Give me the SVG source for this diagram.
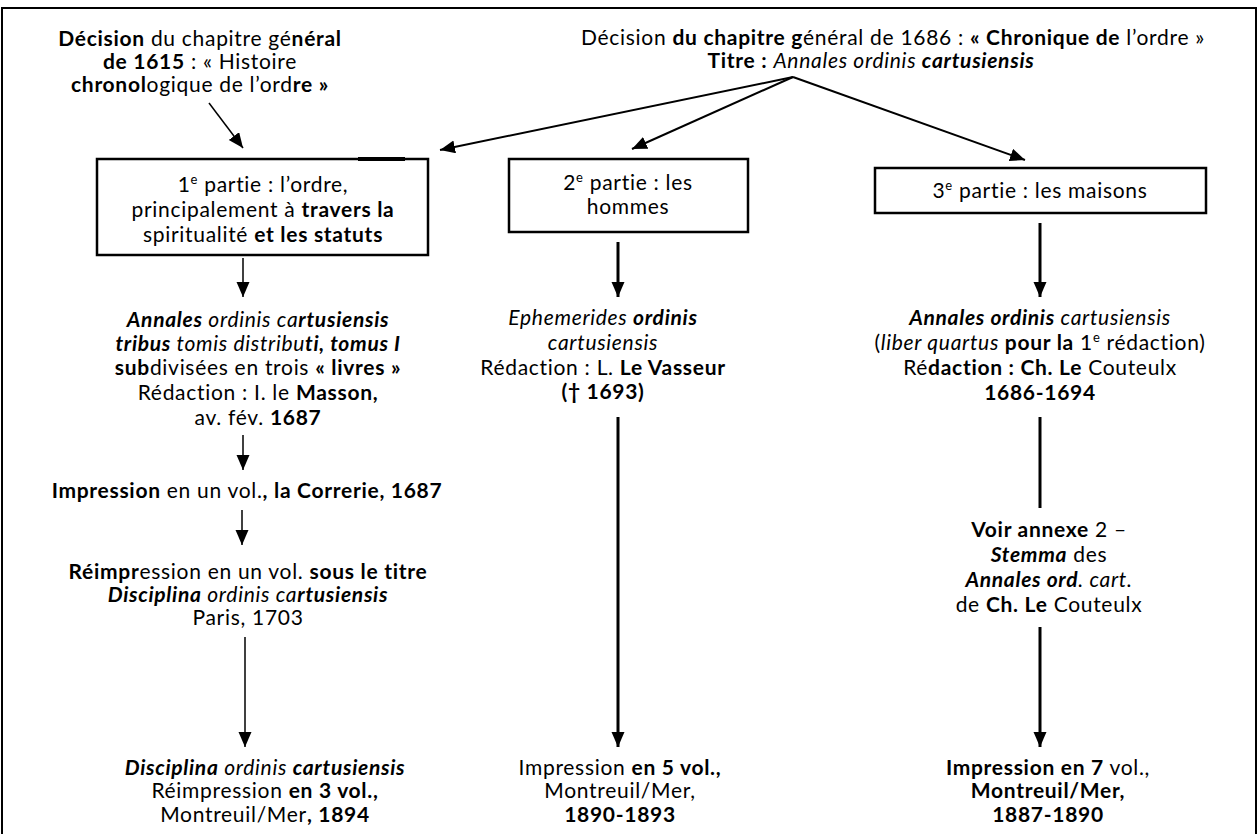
<svg xmlns="http://www.w3.org/2000/svg" width="1259" height="834" viewBox="0 0 1259 834">
<style>
text{font-family:Lato,"Liberation Sans",sans-serif;font-size:21px;letter-spacing:0.7px;fill:#000;text-anchor:middle}
.b{font-weight:700}
.i{font-style:italic}
.box{fill:#fff;stroke:#000;stroke-width:2.5}
.thin{stroke:#000;stroke-width:1.5;fill:none}
.mid{stroke:#000;stroke-width:2;fill:none}
.thick{stroke:#000;stroke-width:3;fill:none}
.sup{font-size:13px}
</style>
<defs>
<marker id="ah" markerUnits="userSpaceOnUse" markerWidth="16" markerHeight="14" refX="15" refY="6.5" orient="auto">
<path d="M0,0 L15,6.5 L0,13 z" fill="#000"/>
</marker>
</defs>
<rect width="1259" height="834" fill="#fff"/>
<rect x="2" y="8" width="1254" height="840" fill="none" stroke="#000" stroke-width="2"/>

<g id="connectors">
<line class="thin" x1="209" y1="103" x2="243" y2="148" marker-end="url(#ah)"/>
<line class="mid" x1="793" y1="77" x2="440" y2="150" marker-end="url(#ah)"/>
<line class="mid" x1="793" y1="77" x2="632" y2="149" marker-end="url(#ah)"/>
<line class="mid" x1="793" y1="77" x2="1025" y2="160" marker-end="url(#ah)"/>
<line class="thin" x1="243" y1="258" x2="243" y2="297" marker-end="url(#ah)"/>
<line class="thin" x1="243" y1="435" x2="243" y2="470" marker-end="url(#ah)"/>
<line class="thin" x1="242" y1="510" x2="242" y2="545" marker-end="url(#ah)"/>
<line class="thin" x1="245" y1="637" x2="245" y2="747" marker-end="url(#ah)"/>
<line class="thick" x1="618" y1="242" x2="618" y2="297" marker-end="url(#ah)"/>
<line class="thick" x1="618" y1="417" x2="618" y2="747" marker-end="url(#ah)"/>
<line class="thick" x1="1040" y1="223" x2="1040" y2="297" marker-end="url(#ah)"/>
<line class="thick" x1="1040" y1="417" x2="1040" y2="508"/>
<line class="thick" x1="1040" y1="627" x2="1040" y2="747" marker-end="url(#ah)"/>
</g>

<g id="decision-1615">
<text x="200" y="46"><tspan class="b">Décision</tspan> du chapitre gé<tspan class="b">néral</tspan></text>
<text x="200" y="69"><tspan class="b">de 1615</tspan> : « Histoire</text>
<text x="200" y="92"><tspan class="b">chronol</tspan>ogique de l’ord<tspan class="b">re »</tspan></text>
</g>

<g id="decision-1686">
<text x="893" y="45">Décision <tspan class="b">du chapitre g</tspan>énéral de 1686 : <tspan class="b">« Chronique de</tspan> l’ordre »</text>
<text x="871" y="68"><tspan class="b">Titre :</tspan> <tspan class="i">Annales ordinis </tspan><tspan class="i b">cartusiensis</tspan></text>
</g>

<g id="partie1">
<rect class="box" x="97" y="159" width="331" height="96"/>
<line x1="358" y1="159" x2="405" y2="159" stroke="#000" stroke-width="4"/>
<text x="263" y="192">1<tspan class="sup" dy="-8">e</tspan><tspan dy="8"> partie : l’ordre,</tspan></text>
<text x="263" y="217">principalement à <tspan class="b">travers la</tspan></text>
<text x="263" y="242">spiritualité <tspan class="b">et les statuts</tspan></text>
</g>

<g id="partie2">
<rect class="box" x="509" y="159" width="239" height="73"/>
<text x="628" y="190">2<tspan class="sup" dy="-8">e</tspan><tspan dy="8"> partie : les</tspan></text>
<text x="628" y="214">hommes</text>
</g>

<g id="partie3">
<rect class="box" x="875" y="168" width="331" height="45"/>
<text x="1040" y="198">3<tspan class="sup" dy="-8">e</tspan><tspan dy="8"> partie : les maisons</tspan></text>
</g>

<g id="annales-tomus1">
<text x="258" y="327"><tspan class="i b">Annales</tspan><tspan class="i"> ordinis ca</tspan><tspan class="i b">rtusiensis</tspan></text>
<text x="258" y="351"><tspan class="i b">tribus</tspan><tspan class="i"> tomis distribu</tspan><tspan class="i b">ti, tomus I</tspan></text>
<text x="258" y="375"><tspan class="b">sub</tspan>divisées en trois <tspan class="b">« livres »</tspan></text>
<text x="258" y="400">Rédaction : I. le <tspan class="b">Masson,</tspan></text>
<text x="258" y="425">av. fév. <tspan class="b">1687</tspan></text>
</g>

<g id="impression-1687">
<text x="247" y="498"><tspan class="b">Impression</tspan> en un vol.<tspan class="b">, la Correrie, 1687</tspan></text>
</g>

<g id="reimpression-1703">
<text x="248" y="579"><tspan class="b">Réimpr</tspan>ession en un vol. <tspan class="b">sous le titre</tspan></text>
<text x="248" y="602"><tspan class="i b">Disciplina</tspan><tspan class="i"> ordinis ca</tspan><tspan class="i b">rtusiensis</tspan></text>
<text x="248" y="625">Paris, 1703</text>
</g>

<g id="disciplina-1894">
<text x="265" y="775"><tspan class="i b">Disciplina</tspan><tspan class="i"> ordinis </tspan><tspan class="i b">cartusiensis</tspan></text>
<text x="265" y="798">Réimpression <tspan class="b">en 3 vol.,</tspan></text>
<text x="265" y="822">Montreuil/Mer<tspan class="b">, 1894</tspan></text>
</g>

<g id="ephemerides">
<text x="603" y="325"><tspan class="i">Ephemerides </tspan><tspan class="i b">ordinis</tspan></text>
<text x="603" y="350" class="i">cartusiensis</text>
<text x="603" y="375">Rédaction : L. <tspan class="b">Le Vasseur</tspan></text>
<text x="603" y="399" class="b">(† 1693)</text>
</g>

<g id="impression-5vol">
<text x="620" y="775">Impression <tspan class="b">en 5 vol.,</tspan></text>
<text x="620" y="798">Montreuil/Mer,</text>
<text x="620" y="822" class="b">1890-1893</text>
</g>

<g id="annales-liber4">
<text x="1040" y="325"><tspan class="i b">Annales ordinis</tspan><tspan class="i"> cartusiensis</tspan></text>
<text x="1040" y="350">(<tspan class="i">liber quartus</tspan><tspan class="b"> pour la</tspan> 1<tspan class="sup" dy="-8">e</tspan><tspan dy="8"> rédaction)</tspan></text>
<text x="1040" y="375">Ré<tspan class="b">daction : Ch. Le</tspan> Couteulx</text>
<text x="1040" y="400" class="b">1686-1694</text>
</g>

<g id="annexe2">
<text x="1049" y="537"><tspan class="b">Voir annexe</tspan> 2 –</text>
<text x="1049" y="562"><tspan class="i b">Stemma</tspan> des</text>
<text x="1049" y="587"><tspan class="i b">Annales ord</tspan><tspan class="i">. cart.</tspan></text>
<text x="1049" y="612">de <tspan class="b">Ch. Le</tspan> Couteulx</text>
</g>

<g id="impression-7vol">
<text x="1048" y="775"><tspan class="b">Impression en 7</tspan> vol.,</text>
<text x="1048" y="798" class="b">Montreuil/Mer,</text>
<text x="1048" y="822" class="b">1887-1890</text>
</g>
</svg>
